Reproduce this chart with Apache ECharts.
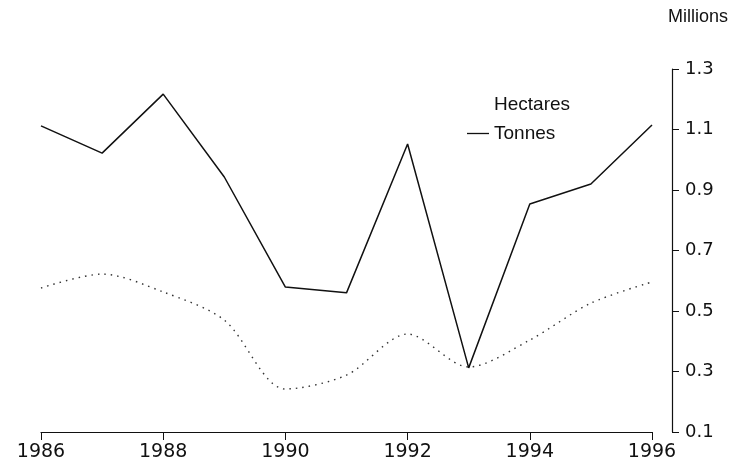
<!DOCTYPE html>
<html>
<head>
<meta charset="utf-8">
<script src="https://cdn.jsdelivr.net/npm/echarts@6/dist/echarts.min.js"></script>
<style>
html,body{margin:0;padding:0;background:#fff;}
#chart{width:743px;height:469px;}
</style>
</head>
<body>
<div id="chart"></div>
<script>
const years = ['1986','1987','1988','1989','1990','1991','1992','1993','1994','1995','1996'];
const hectares = [0.576, 0.622, 0.563, 0.470, 0.242, 0.288, 0.424, 0.315, 0.404, 0.526, 0.596];
const tonnes = [1.112, 1.022, 1.217, 0.943, 0.579, 0.560, 1.052, 0.312, 0.854, 0.920, 1.115];
const yTicks = [0.1, 0.3, 0.5, 0.7, 0.9, 1.1, 1.3];

const chart = echarts.init(document.getElementById('chart'), null, {renderer: 'canvas'});
const font = 'Liberation Sans';
const numFont = 'DejaVu Sans';
chart.setOption({
  animation: false,
  backgroundColor: '#fff',
  grid: {left: 41, right: 91, top: 69, bottom: 37},
  legend: {
    orient: 'vertical',
    left: 462, top: 90,
    itemWidth: 22, itemHeight: 10, itemGap: 10,
    textStyle: {fontFamily: font, fontSize: 19, color: '#111'},
    data: [
      {name: 'Hectares', icon: 'none'},
      {name: 'Tonnes', icon: 'path://M0,0 L22,0 L22,1.3 L0,1.3 Z', itemStyle: {color: '#111', borderWidth: 0}}
    ]
  },
  xAxis: {
    type: 'category',
    data: years,
    boundaryGap: false,
    axisLine: {lineStyle: {color: '#111', width: 1.2}},
    axisTick: {interval: 1, length: 8, lineStyle: {color: '#111'}},
    axisLabel: {interval: 1, fontFamily: numFont, fontSize: 19, color: '#111', margin: 11},
    splitLine: {show: false}
  },
  yAxis: {
    type: 'value',
    position: 'right',
    offset: 20,
    min: yTicks[0], max: yTicks[yTicks.length - 1], interval: 0.2,
    name: 'Millions',
    nameLocation: 'end',
    nameGap: 43,
    nameTextStyle: {fontFamily: font, fontSize: 18, color: '#111', align: 'left', padding: [0, 0, 0, -4]},
    axisLine: {show: true, lineStyle: {color: '#111', width: 1.2}},
    axisTick: {show: true, length: 7, lineStyle: {color: '#111'}},
    axisLabel: {fontFamily: numFont, fontSize: 18, color: '#111', margin: 13,
      formatter: v => v.toFixed(1)},
    splitLine: {show: false}
  },
  series: [
    {
      name: 'Hectares', type: 'line', data: hectares, smooth: 0.3,
      symbol: 'none',
      itemStyle: {color: '#333'},
      lineStyle: {color: '#333', width: 1.4, type: [1.5, 5]}
    },
    {
      name: 'Tonnes', type: 'line', data: tonnes,
      symbol: 'none',
      itemStyle: {color: '#111'},
      lineStyle: {color: '#111', width: 1.5}
    }
  ]
});
</script>
</body>
</html>
